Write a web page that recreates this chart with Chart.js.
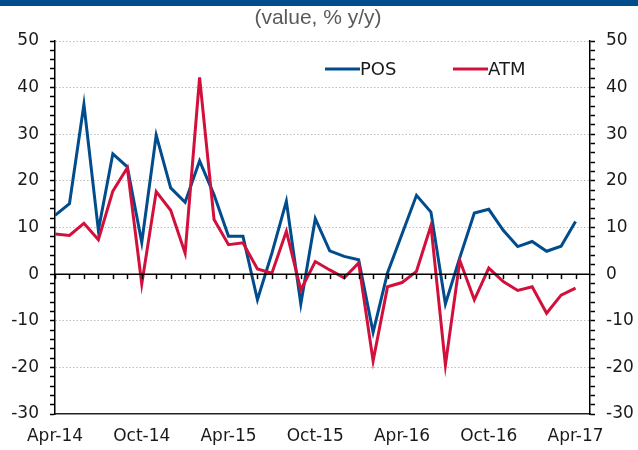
<!DOCTYPE html>
<html>
<head>
<meta charset="utf-8">
<script src="https://cdn.jsdelivr.net/npm/chart.js@4/dist/chart.umd.min.js"></script>
<style>
  html, body { margin: 0; padding: 0; background: #fff; }
  #wrap { width: 638px; height: 450px; }
</style>
</head>
<body>
<div id="wrap"><canvas id="chart" width="638" height="450"></canvas></div>
<script>
// Datos (valor, % a/a) - mensual Apr-14 .. Apr-17
const xTickLabels = ['Apr-14', 'Oct-14', 'Apr-15', 'Oct-15', 'Apr-16', 'Oct-16', 'Apr-17'];

const posValues = [
  12.6, 15.1, 36.4, 9.4, 25.8, 23.0, 6.8, 29.8, 18.5, 15.4, 24.3, 17.0,
  8.1, 8.1, -5.5, 4.5, 15.6, -6.4, 11.9, 5.0, 3.8, 3.1, -12.5, 0.3,
  8.6, 16.9, 13.3, -6.4, 3.6, 13.1, 13.9, 9.4, 5.9, 7.0, 4.9, 6.0, 11.3
];

const atmValues = [
  8.6, 8.3, 10.9, 7.4, 17.8, 22.8, -2.1, 17.7, 13.7, 4.5, 42.2, 11.7,
  6.3, 6.7, 1.1, 0.2, 9.2, -3.4, 2.7, 0.9, -0.8, 2.4, -18.6, -2.7,
  -1.8, 0.6, 10.4, -19.5, 2.9, -5.5, 1.3, -1.6, -3.5, -2.7, -8.4, -4.5, -3.0
];

const seriesNames = ['POS', 'ATM'];

const BLUE = '#004c8c';
const RED = '#d2103c';
const FONT = "'DejaVu Sans', sans-serif";

function toPoints(values) {
  return values.map((v, i) => ({ x: i, y: v }));
}

// Banda superior, subtítulo, leyenda y línea del cero
const decorPlugin = {
  id: 'decor',
  beforeDraw(chart) {
    const c = chart.ctx;
    c.save();
    c.fillStyle = '#004c8c';
    c.fillRect(0, 0, chart.width, 6);
    c.fillStyle = '#5a5a5a';
    c.font = "21px 'Liberation Sans', Arial, sans-serif";
    c.textAlign = 'center';
    c.textBaseline = 'middle';
    c.fillText('(value, % y/y)', 318, 18);
    c.restore();
  },
  afterDatasetsDraw(chart) {
    const c = chart.ctx;
    const x = chart.scales.x;
    const y = chart.scales.y;
    const y0 = y.getPixelForValue(0);
    c.save();
    // línea del cero
    c.strokeStyle = '#000';
    c.lineWidth = 1.5;
    c.beginPath();
    c.moveTo(x.left, y0);
    c.lineTo(x.right, y0);
    c.stroke();
    // marcas mensuales sobre el cero
    for (let i = 0; i < posValues.length; i++) {
      const px = Math.round(x.getPixelForValue(i)) + 0.5;
      c.beginPath();
      c.moveTo(px, y0);
      c.lineTo(px, y0 + 5);
      c.stroke();
    }
    // leyenda
    const items = [
      { label: seriesNames[0], color: BLUE, x0: 325 },
      { label: seriesNames[1], color: RED, x0: 453 }
    ];
    c.font = '18px ' + FONT;
    c.textAlign = 'left';
    c.textBaseline = 'middle';
    items.forEach(it => {
      c.strokeStyle = it.color;
      c.lineWidth = 3;
      c.beginPath();
      c.moveTo(it.x0, 69);
      c.lineTo(it.x0 + 35, 69);
      c.stroke();
      c.fillStyle = '#1a1a1a';
      c.fillText(it.label, it.x0 + 35, 70);
    });
    c.restore();
  }
};

function yAxis(position, width) {
  return {
    type: 'linear',
    position: position,
    min: -30,
    max: 50,
    afterFit(scale) { scale.width = width; },
    ticks: {
      stepSize: 2,
      autoSkip: false,
      padding: 11,
      color: '#1a1a1a',
      font: { family: FONT, size: 17 },
      callback: v => (v % 10 === 0 ? v : '')
    },
    grid: {
      drawOnChartArea: position === 'left',
      color: ctx => (ctx.tick && ctx.tick.value % 10 === 0 && ctx.tick.value !== 0 && ctx.tick.value !== -30)
        ? '#bdbdbd' : 'rgba(0,0,0,0)',
      lineWidth: 1,
      tickColor: '#000',
      tickLength: 5,
      tickWidth: 1.5
    },
    border: { display: true, color: '#000', width: 1.5, dash: [1.5, 2] }
  };
}

function initChart() {
  const ctx = document.getElementById('chart');
  if (!ctx) return;

  new Chart(ctx, {
    type: 'line',
    data: {
      datasets: [
        {
          label: seriesNames[1],
          data: toPoints(atmValues),
          borderColor: RED,
          borderWidth: 3,
          pointRadius: 0,
          tension: 0,
          order: 1
        },
        {
          label: seriesNames[0],
          data: toPoints(posValues),
          borderColor: BLUE,
          borderWidth: 3,
          pointRadius: 0,
          tension: 0,
          order: 2
        }
      ]
    },
    options: {
      responsive: false,
      animation: false,
      layout: { padding: { top: 41, left: 0, right: 0, bottom: 0 } },
      plugins: {
        legend: { display: false },
        tooltip: { enabled: false }
      },
      scales: {
        x: {
          type: 'linear',
          min: 0,
          max: 37,
          afterFit(scale) { scale.height = 36; },
          afterBuildTicks(scale) {
            scale.ticks = xTickLabels.map((_, i) => ({ value: i * 6 }));
          },
          ticks: {
            autoSkip: false,
            maxRotation: 0,
            padding: 12,
            color: '#1a1a1a',
            font: { family: FONT, size: 17 },
            callback: v => xTickLabels[v / 6]
          },
          grid: { display: false, drawTicks: false },
          border: { display: true, color: '#222', width: 1.5 }
        },
        y: yAxis('left', 55),
        y2: yAxis('right', 48)
      }
    },
    plugins: [decorPlugin]
  });
}

if (document.readyState === 'loading') {
  document.addEventListener('DOMContentLoaded', initChart);
} else {
  initChart();
}
</script>
</body>
</html>
